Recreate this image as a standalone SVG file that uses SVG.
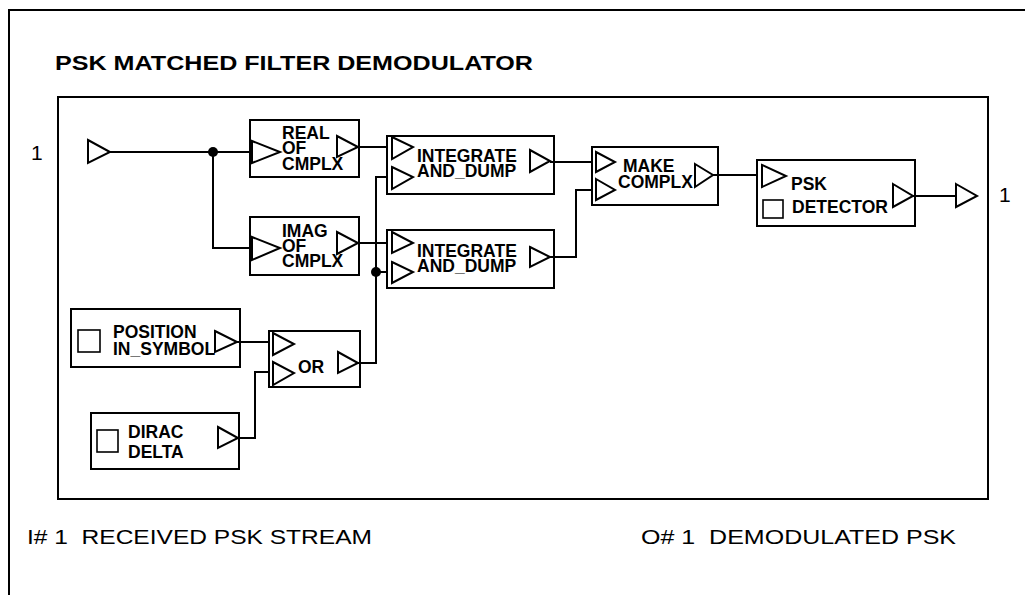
<svg xmlns="http://www.w3.org/2000/svg" width="1025" height="595" viewBox="0 0 1025 595">
<style>
.box{fill:none;stroke:#000;stroke-width:2}
.tri{fill:#fff;stroke:#000;stroke-width:2;stroke-linejoin:miter}
.sq{fill:none;stroke:#000;stroke-width:1.6}
.lbl{font-family:"Liberation Sans",Arial,sans-serif;font-weight:bold;font-size:17.5px;fill:#000}
.big{font-family:"Liberation Sans",Arial,sans-serif;font-size:21px;fill:#000;white-space:pre}
.wire{fill:none;stroke:#000;stroke-width:2}
</style>
<rect width="1025" height="595" fill="#fff"/>
<g id="frame">
<path class="wire" d="M9,595 L9,10 L1025,10"/>
<text class="big" x="55" y="70" font-weight="bold" textLength="478" lengthAdjust="spacingAndGlyphs">PSK MATCHED FILTER DEMODULATOR</text>
<rect class="box" x="58" y="97" width="930" height="402"/>
<text class="big" x="27" y="544" textLength="345" lengthAdjust="spacingAndGlyphs">I# 1  RECEIVED PSK STREAM</text>
<text class="big" x="641" y="544" textLength="315" lengthAdjust="spacingAndGlyphs">O# 1  DEMODULATED PSK</text>
</g>
<g id="connectors">
<path class="wire" d="M110,152 L250,152"/>
<path class="wire" d="M213,152 L213,248 L250,248"/>
<circle cx="213" cy="152" r="5" fill="#000"/>
<path class="wire" d="M358,147 L387,147"/>
<path class="wire" d="M358,243 L387,243"/>
<path class="wire" d="M550,162 L592,162"/>
<path class="wire" d="M550,257 L576,257 L576,190 L592,190"/>
<path class="wire" d="M713,175 L757,175"/>
<path class="wire" d="M913,196 L956,196"/>
<path class="wire" d="M358,363 L376,363 L376,177 L387,177"/>
<path class="wire" d="M376,272 L387,272"/>
<circle cx="376" cy="272" r="5" fill="#000"/>
<path class="wire" d="M237,342 L269,342"/>
<path class="wire" d="M238,438 L255,438 L255,372 L269,372"/>
</g>
<g id="in1">
<text class="big" x="31" y="160" font-size="20">1</text>
<path class="tri" d="M88,140 L110,152 L88,163 Z"/>
</g>
<g id="out1">
<path class="tri" d="M956,184 L977,196 L956,207 Z"/>
<text class="big" x="999" y="202" font-size="20">1</text>
</g>
<g id="real">
<rect class="box" x="250" y="120" width="109" height="57"/>
<path class="tri" d="M252,141 L280,152 L252,163 Z"/>
<text class="lbl" x="282" y="139">REAL</text>
<text class="lbl" x="282" y="154">OF</text>
<text class="lbl" x="282" y="170">CMPLX</text>
<path class="tri" d="M337,136 L358,147 L337,157 Z"/>
</g>
<g id="imag">
<rect class="box" x="250" y="217" width="109" height="58"/>
<path class="tri" d="M252,237 L280,248 L252,260 Z"/>
<text class="lbl" x="282" y="237">IMAG</text>
<text class="lbl" x="282" y="252">OF</text>
<text class="lbl" x="282" y="267">CMPLX</text>
<path class="tri" d="M337,232 L358,243 L337,254 Z"/>
</g>
<g id="integrate1">
<rect class="box" x="387" y="136" width="167" height="58"/>
<path class="tri" d="M392,137 L413,147 L392,159 Z"/>
<path class="tri" d="M392,167 L413,177 L392,189 Z"/>
<text class="lbl" x="417" y="162">INTEGRATE</text>
<text class="lbl" x="417" y="177">AND_DUMP</text>
<path class="tri" d="M530,150 L550,161 L530,172 Z"/>
</g>
<g id="integrate2">
<rect class="box" x="387" y="230" width="167" height="58"/>
<path class="tri" d="M392,232 L413,243 L392,253 Z"/>
<path class="tri" d="M392,262 L413,272 L392,283 Z"/>
<text class="lbl" x="417" y="257">INTEGRATE</text>
<text class="lbl" x="417" y="272">AND_DUMP</text>
<path class="tri" d="M530,247 L550,257 L530,267 Z"/>
</g>
<g id="makecomplx">
<rect class="box" x="592" y="147" width="126" height="58"/>
<path class="tri" d="M596,152 L615,162 L596,172 Z"/>
<path class="tri" d="M596,179 L615,190 L596,200 Z"/>
<text class="lbl" x="623" y="172">MAKE</text>
<text class="lbl" x="618" y="188">COMPLX</text>
<path class="tri" d="M695,164 L713,175 L695,187 Z"/>
</g>
<g id="pskdetector">
<rect class="box" x="757" y="160" width="158" height="66"/>
<path class="tri" d="M762,165 L786,176 L762,187 Z"/>
<rect class="sq" x="763" y="200" width="20" height="18"/>
<text class="lbl" x="791" y="190">PSK</text>
<text class="lbl" x="792" y="213">DETECTOR</text>
<path class="tri" d="M893,184 L913,196 L893,207 Z"/>
</g>
<g id="position">
<rect class="box" x="71" y="309" width="169" height="58"/>
<rect class="sq" x="78" y="330" width="22" height="22"/>
<text class="lbl" x="113" y="338">POSITION</text>
<text class="lbl" x="113" y="355">IN_SYMBOL</text>
<path class="tri" d="M215,331 L237,342 L215,352 Z"/>
</g>
<g id="or">
<rect class="box" x="269" y="331" width="91" height="56"/>
<path class="tri" d="M273,333 L294,344 L273,355 Z"/>
<path class="tri" d="M273,362 L294,373 L273,385 Z"/>
<text class="lbl" x="298" y="373">OR</text>
<path class="tri" d="M338,352 L358,363 L338,373 Z"/>
</g>
<g id="dirac">
<rect class="box" x="91" y="413" width="148" height="56"/>
<rect class="sq" x="97" y="430" width="21" height="22"/>
<text class="lbl" x="128" y="438">DIRAC</text>
<text class="lbl" x="128" y="458">DELTA</text>
<path class="tri" d="M218,427 L238,438 L218,448 Z"/>
</g>
</svg>
